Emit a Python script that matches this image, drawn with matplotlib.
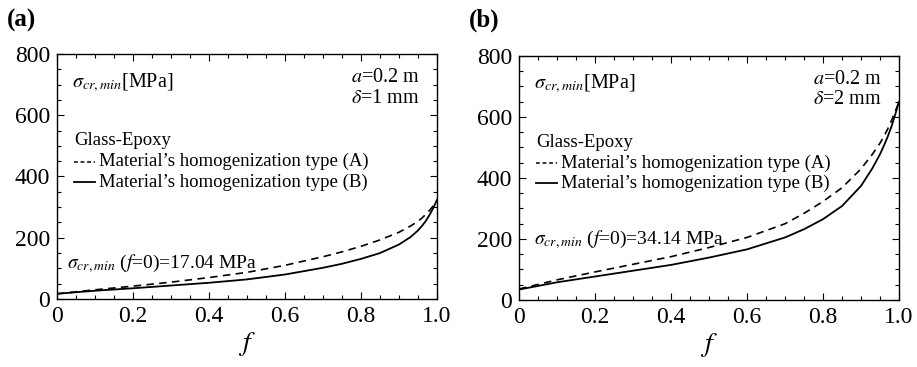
import matplotlib
matplotlib.use("Agg")
import matplotlib.pyplot as plt
from matplotlib.ticker import MultipleLocator, FixedLocator, FixedFormatter

plt.rcParams["font.family"] = ["Liberation Serif", "DejaVu Serif"]
plt.rcParams["mathtext.fontset"] = "stix"

# Volume fraction f
f_a = [0.0, 0.1, 0.2, 0.3, 0.4, 0.5, 0.6, 0.7, 0.75, 0.8, 0.85, 0.9, 0.93, 0.95,
       0.96, 0.97, 0.98, 0.99, 1.0]
# (a) delta = 1 mm
sig_a_typeA = [17.04, 30, 42, 55, 70, 87, 110, 138, 154, 172, 193, 218, 238, 254,
               264, 276, 289, 304, 322]
sig_a_typeB = [17.04, 27, 35, 44, 53, 64, 80, 102, 115, 131, 150, 178, 202, 224,
               238, 254, 274, 297, 324]
# (b) delta = 2 mm
f_b = [0.0, 0.1, 0.2, 0.3, 0.4, 0.5, 0.6, 0.7, 0.75, 0.8, 0.85, 0.9, 0.93, 0.95,
       0.96, 0.97, 0.98, 0.99, 1.0]
sig_b_typeA = [36, 66, 92, 117, 142, 172, 205, 250, 284, 323, 368, 430, 478, 514,
               536, 560, 588, 618, 650]
sig_b_typeB = [34.14, 58, 77, 96, 115, 139, 166, 205, 232, 265, 308, 374, 432, 478,
               505, 535, 568, 608, 650]

x_ticks = [0, 0.2, 0.4, 0.6, 0.8, 1.0]
x_tick_labels = ["0", "0.2", "0.4", "0.6", "0.8", "1.0"]
y_ticks = [0, 200, 400, 600, 800]
y_tick_labels = ["0", "200", "400", "600", "800"]

panels = [
    dict(label="(a)", f=f_a, A=sig_a_typeA, B=sig_a_typeB, delta="1",
         f0="17.04", f0_x=0.025, f0_y=114, rect=[0.0622, 0.1853, 0.4144, 0.6676]),
    dict(label="(b)", f=f_b, A=sig_b_typeA, B=sig_b_typeB, delta="2",
         f0="34.14", f0_x=0.04, f0_y=197, rect=[0.566, 0.1826, 0.4144, 0.6649]),
]

fig = plt.figure(figsize=(9.17, 3.67), dpi=100)

for p in panels:
    ax = fig.add_axes(p["rect"])
    ax.plot(p["f"], p["A"], color="black", lw=1.2, ls=(0, (4.5, 3.2)))
    ax.plot(p["f"], p["B"], color="black", lw=1.3, ls="-")
    ax.set_xlim(0, 1.0)
    ax.set_ylim(0, 800)
    ax.xaxis.set_major_locator(FixedLocator(x_ticks))
    ax.xaxis.set_major_formatter(FixedFormatter(x_tick_labels))
    ax.yaxis.set_major_locator(FixedLocator(y_ticks))
    ax.yaxis.set_major_formatter(FixedFormatter(y_tick_labels))
    ax.xaxis.set_minor_locator(MultipleLocator(0.05))
    ax.yaxis.set_minor_locator(MultipleLocator(50))
    ax.tick_params(which="both", direction="in", top=True, right=True,
                   labelsize=17, width=0.8)
    ax.tick_params(which="major", length=5, pad=5)
    ax.tick_params(which="minor", length=3)
    for s in ax.spines.values():
        s.set_linewidth(1.0)
    ax.set_xlabel(r"$f$", fontsize=20, labelpad=2)

    ax.text(0.04, 0.885, r"$\sigma_{cr,min}$[MPa]", transform=ax.transAxes,
            fontsize=14.5, va="center", ha="left")
    ax.text(0.955, 0.905, r"$a$=0.2 m", transform=ax.transAxes,
            fontsize=14.5, va="center", ha="right")
    ax.text(0.955, 0.82, r"$\delta$=" + p["delta"] + " mm", transform=ax.transAxes,
            fontsize=14.5, va="center", ha="right")
    ax.text(0.045, 0.645, "Glass-Epoxy", transform=ax.transAxes,
            fontsize=13.5, va="center", ha="left")
    ax.plot([0.045, 0.1], [0.56, 0.56], transform=ax.transAxes, color="black",
            lw=1.1, ls=(0, (2.5, 1.8)))
    ax.text(0.11, 0.56, "Material\u2019s homogenization type (A)", transform=ax.transAxes,
            fontsize=13.5, va="center", ha="left")
    ax.plot([0.045, 0.1], [0.478, 0.478], transform=ax.transAxes, color="black",
            lw=1.3)
    ax.text(0.11, 0.478, "Material\u2019s homogenization type (B)", transform=ax.transAxes,
            fontsize=13.5, va="center", ha="left")
    ax.text(p["f0_x"], p["f0_y"],
            r"$\sigma_{cr,min}$ ($f$=0)=" + p["f0"] + " MPa",
            fontsize=14, va="center", ha="left")

    x0 = p["rect"][0]
    fig.text(x0 - 0.055, 0.945, p["label"], fontsize=18, fontweight="bold",
             va="center", ha="left")

fig.savefig("out.png", dpi=100)
